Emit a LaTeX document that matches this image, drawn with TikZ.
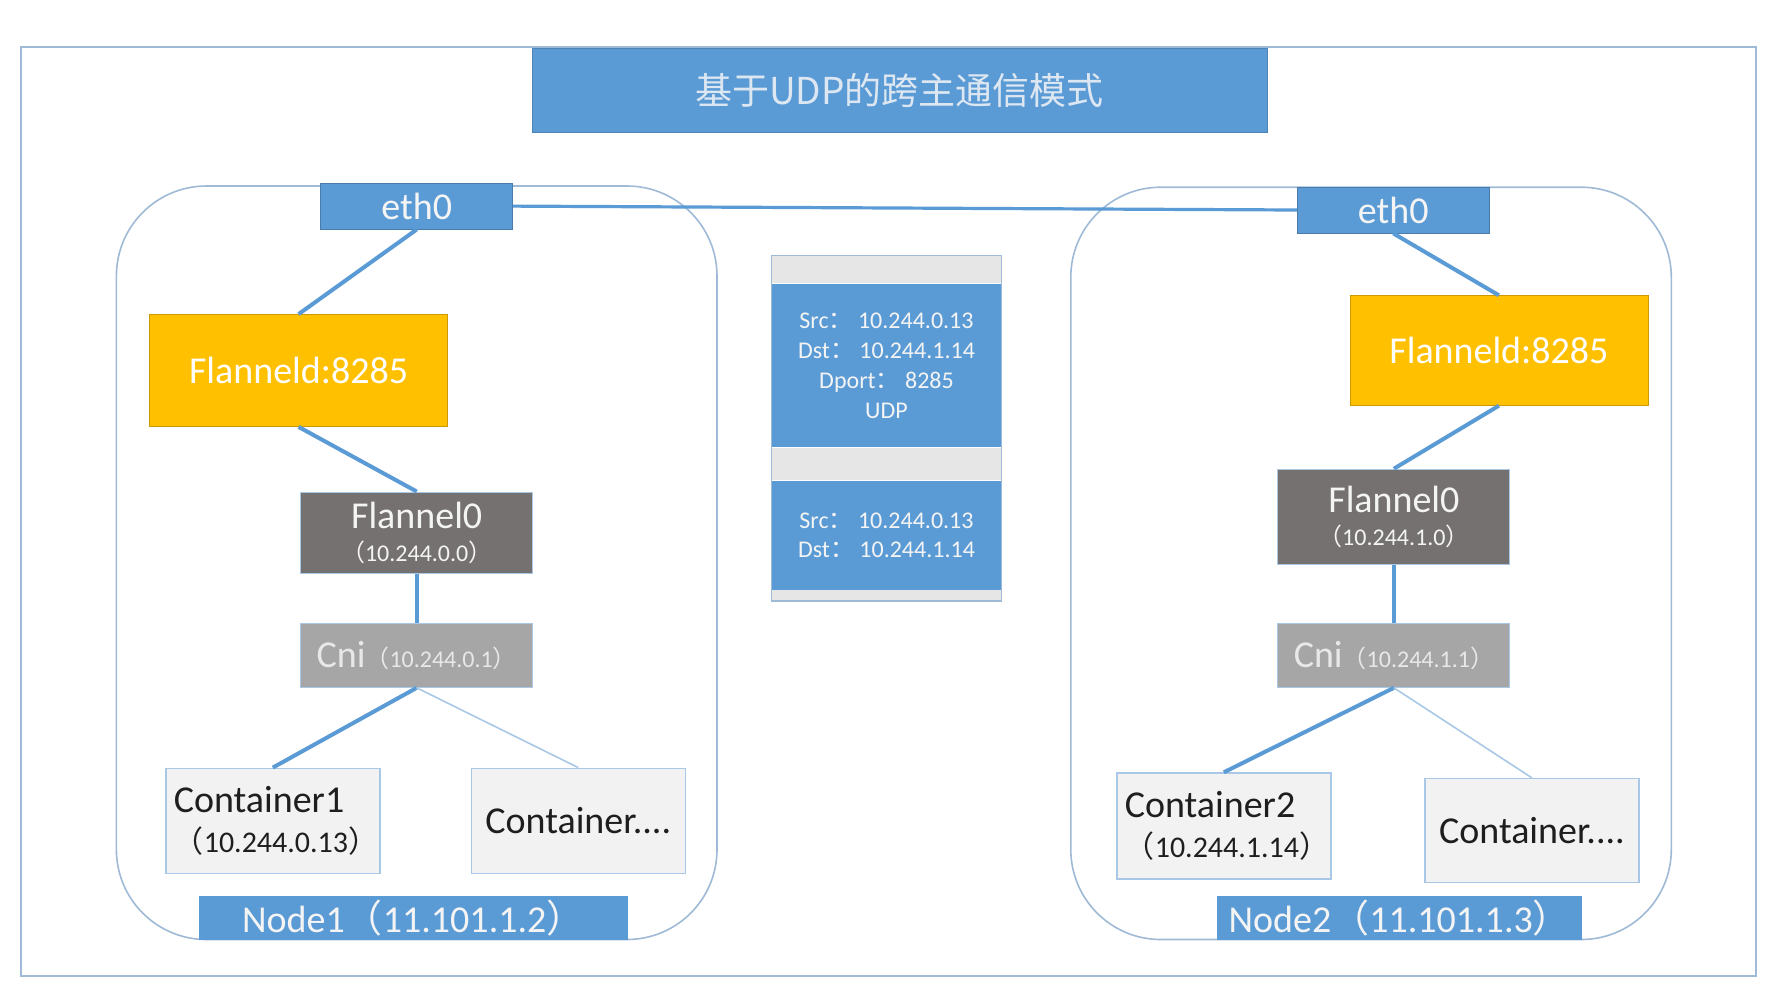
\documentclass[tikz,border=0pt]{standalone}
\usepackage{fontspec}
\setmainfont{Carlito}
\newfontfamily\cjk{Noto Sans CJK SC}
\usetikzlibrary{positioning}
\definecolor{Blue}{HTML}{5B9BD5}
\definecolor{LightBlue}{HTML}{A9C8E6}
\definecolor{Frame}{HTML}{9FBAD6}
\definecolor{Amber}{HTML}{FFC000}
\definecolor{Dark}{HTML}{767171}
\definecolor{Mid}{HTML}{A6A6A6}
\definecolor{Pale}{HTML}{F2F2F2}
\definecolor{Strip}{HTML}{E7E6E6}
\definecolor{Ink}{HTML}{1E1E1E}
\definecolor{Glow}{HTML}{F4F4F4}
\definecolor{TitleInk}{HTML}{DDE7F2}
\newcommand\zlp{{\cjk （}}
\newcommand\zrp{{\cjk ）}}
\newcommand\zcol{{\cjk ：}}

\begin{document}
\begin{tikzpicture}[x=0.5pt,y=-0.5pt,
  base/.style={inner sep=0pt,align=center,font=\fontsize{19}{23}\selectfont},
  eth/.style={base,draw=Blue!80!black,line width=0.4pt,fill=Blue,text=Glow,minimum width=96pt,minimum height=23pt},
  flanneld/.style={base,draw=Amber!80!black,line width=0.4pt,fill=Amber,text=white,minimum width=149pt,minimum height=56pt},
  flannelz/.style={base,draw=LightBlue,line width=0.5pt,fill=Dark,text=Glow,minimum width=116pt},
  cni/.style={base,draw=LightBlue,line width=0.5pt,fill=Mid,text=Glow!95!black,minimum width=116pt,minimum height=32pt},
  ctr/.style={base,draw=LightBlue,line width=0.7pt,fill=Pale,text=Ink,minimum width=107pt,minimum height=52.5pt},
  ctrip/.style={ctr,align=left,text width=99pt,inner xsep=4pt},
  nodelabel/.style={base,fill=Blue,text=Glow,minimum height=21.8pt},
  host/.style={draw=Frame,line width=0.8pt,rounded corners=45pt},
  strip/.style={inner sep=0pt,fill=Strip,minimum width=114.8pt},
  pkt/.style={inner sep=0pt,fill=Blue,text=Glow,align=center,minimum width=114.8pt,font=\fontsize{12}{14.9}\selectfont},
  wire/.style={draw=Blue,line width=2pt},
  thinwire/.style={draw=LightBlue,line width=0.8pt}
]
\useasboundingbox (0,0) rectangle (1790,993);
\fill[white] (0,0) rectangle (1790,993);
\draw[draw=Frame,line width=1pt] (20.5,46.8) rectangle (1755.8,976);

% title
\node[base,fill=Blue,draw=Blue!85!black,line width=0.4pt,text=TitleInk,minimum width=367.5pt,minimum height=42.2pt,font=\fontsize{18.5}{22}\cjk] (title) at (899.5,90.2) {基于UDP的跨主通信模式};

% node 1
\draw[host] (116.4,186) rectangle (717,939.5);
\node[eth] (ethL) at (416.7,206.1) {eth0};
\node[flanneld] (fldL) at (298.6,370.5) {Flanneld:8285};
\node[flannelz,minimum height=40.5pt] (fzL) at (416.7,532.5) {Flannel0\\[-6.5pt]{\fontsize{12}{14}\selectfont\zlp 10.244.0.0\zrp}};
\node[cni] (cniL) at (416.7,655.3) {Cni{\fontsize{12}{14}\selectfont\zlp 10.244.0.1\zrp}};
\node[ctrip] (c1) at (272.8,820.8) {Container1\\[-3pt]{\fontsize{15}{18}\selectfont\zlp 10.244.0.13\zrp}};
\node[ctr] (cxL) at (578.3,820.8) {Container....};
\node[nodelabel,minimum width=214.7pt] (n1) at (413.3,917.8) {Node1\zlp 11.101.1.2\zrp};

% node 2
\draw[host] (1070.8,187.2) rectangle (1671.3,939.5);
\node[eth] (ethR) at (1393.3,210) {eth0};
\node[flanneld,minimum height=54.8pt] (fldR) at (1498.9,350.5) {Flanneld:8285};
\node[flannelz,minimum height=47.4pt] (fzR) at (1393.9,516.6) {Flannel0\\[-6.5pt]{\fontsize{12}{14}\selectfont\zlp 10.244.1.0\zrp}};
\node[cni] (cniR) at (1393.9,655.3) {Cni{\fontsize{12}{14}\selectfont\zlp 10.244.1.1\zrp}};
\node[ctrip,minimum height=53pt] (c2) at (1223.8,826) {Container2\\[-3pt]{\fontsize{15}{18}\selectfont\zlp 10.244.1.14\zrp}};
\node[ctr,minimum height=52pt] (cxR) at (1532,830.6) {Container....};
\node[nodelabel,minimum width=182.7pt] (n2) at (1399.7,917.8) {Node2\zlp 11.101.1.3\zrp};

% packet
\node[strip,minimum height=13.7pt] (p0) at (886.5,269.4) {};
\node[pkt,minimum height=81.7pt,below=0pt of p0] (p1) {Src\zcol{} 10.244.0.13\\Dst\zcol{} 10.244.1.14\\Dport\zcol{} 8285\\UDP};
\node[strip,minimum height=16pt,below=0pt of p1] (p2) {};
\node[pkt,minimum height=54.3pt,below=0pt of p2] (p3) {Src\zcol{} 10.244.0.13\\Dst\zcol{} 10.244.1.14};
\node[strip,minimum height=5.1pt,below=0pt of p3] (p4) {};
\draw[draw=Frame,line width=0.6pt] (p0.north west) rectangle (p4.south east);

% links
\draw[wire,line width=1.6pt] (ethL.east) -- (ethR.west);
\draw[wire] (ethL.south) -- (fldL.north);
\draw[wire] (fldL.south) -- (fzL.north);
\draw[wire] (fzL.south) -- (cniL.north);
\draw[wire] (cniL.south) -- (c1.north);
\draw[thinwire] (cniL.south) -- (cxL.north);
\draw[wire] (ethR.south) -- (fldR.north);
\draw[wire] (fldR.south) -- (fzR.north);
\draw[wire] (fzR.south) -- (cniR.north);
\draw[wire] (cniR.south) -- (c2.north);
\draw[thinwire] (cniR.south) -- (cxR.north);
\end{tikzpicture}
\end{document}
